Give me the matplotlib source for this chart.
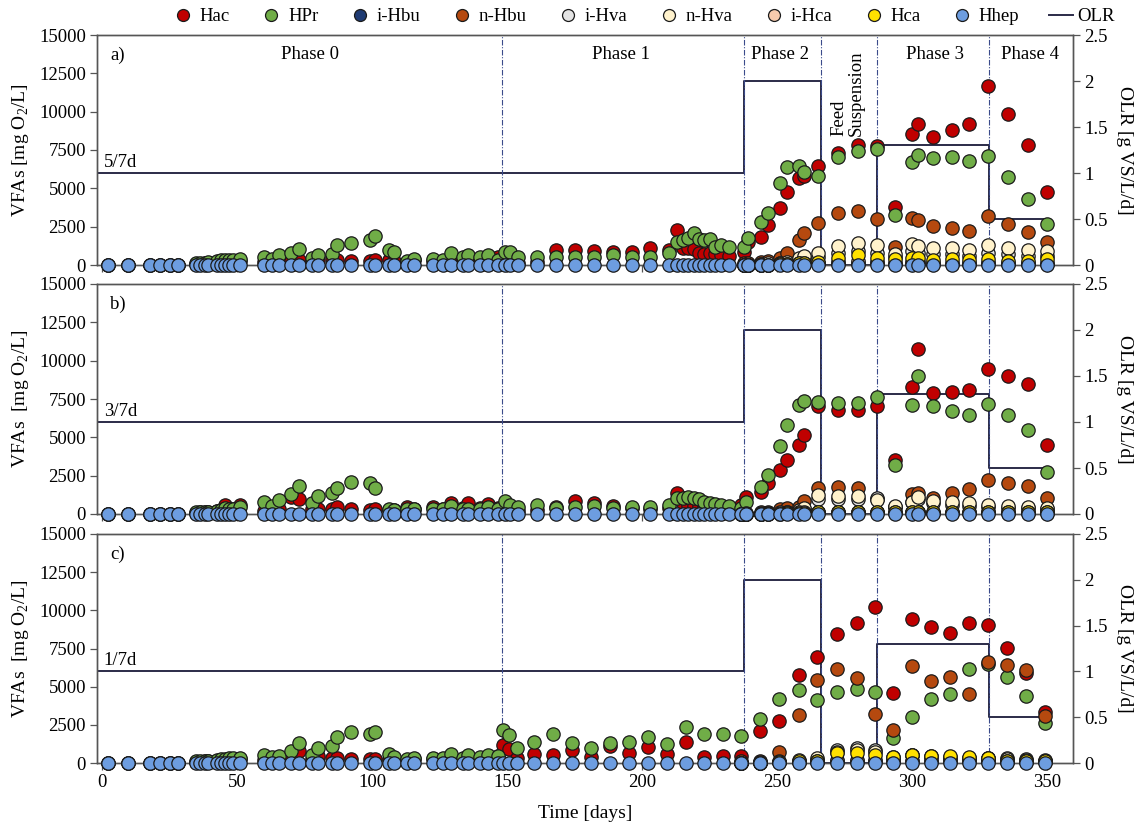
import matplotlib
matplotlib.use("Agg")
import matplotlib.pyplot as plt
from matplotlib.lines import Line2D

plt.rcParams['font.family'] = ['Liberation Serif', 'DejaVu Serif']
plt.rcParams['mathtext.fontset'] = 'custom'
plt.rcParams['mathtext.rm'] = 'Liberation Serif'

# ---------------- data ----------------
series_names = ['Hac', 'HPr', 'i-Hbu', 'n-Hbu', 'i-Hva', 'n-Hva', 'i-Hca', 'Hca', 'Hhep']
series_colors = ['#c00000', '#70ad47', '#1f3b73', '#b5490f', '#e4e4e4',
                 '#fff2cc', '#f8cbad', '#ffe100', '#6d9de0']

phase0_days = [2, 9.5, 17.5, 21.5, 25, 28, 34.5, 36, 38, 39, 42.5, 44, 45.5, 47, 48.5, 51,
               60, 63, 65.5, 70, 73, 77.5, 80, 85, 87, 92, 99, 101, 106, 108, 113, 115.5,
               122.5, 126, 129, 133.5, 135.5, 140, 143, 146.5]

phase_lines = [148, 237.5, 266, 287, 328.5]
phase_names = ['Phase 0', 'Phase 1', 'Phase 2', 'Phase 3', 'Phase 4']
phase_name_x = [77, 192, 251, 308.5, 343.5]

olr_days = [-2, 237.5, 266, 287, 328.5, 350]
olr_vals = [1, 2, 0, 1.3, 0.5, 0.5]

# ---- panel a (5/7d) ----
a_p1_days = [149, 151, 154, 161, 168, 175, 182, 189, 196, 203, 210, 213, 215, 217, 219,
             221, 223, 225, 227, 229, 232]
a_late_days = [237.5, 239, 244, 246.5, 251, 253.5, 258, 260, 265, 272.5, 280, 287, 293.5,
               300, 302, 307.5, 314.5, 321, 328, 335.5, 343, 350]
a_days = phase0_days + a_p1_days + a_late_days
a_hac = [0, 0, 0, 0, 0, 0, 50, 80, 100, 100, 150, 150, 200, 200, 250, 250, 200, 250, 300, 250,
         300, 200, 250, 450, 300, 280, 250, 300, 300, 250, 200, 300, 250, 250, 300, 300, 250,
         300, 300, 500,
         200, 250, 150, 200, 980, 980, 900, 870, 830, 1130, 980, 2280, 1090, 1090, 1040, 760,
         700, 760, 720, 650, 590,
         870, 1520, 1850, 2610, 3700, 4780, 5650, 5800, 6480, 7280, 7830, 7760, 3800, 8520,
         9200, 8370, 8800, 9200, 11670, 9830, 7830, 4740]
a_hpr = [0, 0, 0, 0, 0, 0, 100, 150, 150, 200, 250, 300, 330, 300, 300, 390, 540, 400, 650, 760,
         1040, 460, 650, 720, 1320, 1410, 1630, 1910, 1000, 830, 280, 390, 390, 300, 760, 500,
         650, 500, 650, 350,
         830, 830, 540, 540, 540, 540, 540, 640, 540, 500, 780, 1520, 1630, 1740, 2070, 1670,
         1630, 1670, 1200, 1300, 1200,
         1200, 1740, 2830, 3370, 5370, 6410, 6480, 6090, 5830, 7020, 7430, 7570, 3260, 6700,
         7170, 7000, 7070, 6780, 7100, 5720, 4300, 2650]
a_ihbu = [0, 0, 0, 0, 50, 50, 80, 80, 100, 100, 100, 100, 80, 100, 100, 80, 80, 80, 100, 80, 80, 80]
a_nhbu = [100, 150, 200, 250, 460, 800, 1630, 2070, 2760, 3410, 3520, 3000, 1200, 3040, 2930,
          2570, 2440, 2220, 3200, 2670, 2130, 1480]
a_ihva = [0, 0, 50, 50, 100, 150, 300, 400, 500, 800, 900, 800, 500, 900, 800, 700, 700, 600,
          800, 700, 600, 600]
a_nhva = [0, 0, 50, 100, 150, 200, 460, 590, 760, 1260, 1460, 1300, 700, 1390, 1260, 1090, 1130,
          1000, 1330, 1090, 960, 910]
a_ihca = [0, 0, 0, 0, 50, 50, 100, 100, 150, 200, 250, 200, 150, 200, 200, 150, 150, 150, 150,
          150, 150, 150]
a_hca = [0, 0, 0, 0, 50, 50, 100, 150, 200, 430, 650, 480, 370, 480, 480, 330, 370, 330, 370,
         280, 280, 370]
a_hhep = [0, 0, 0, 0, 0, 0, 0, 0, 0, 0, 0, 0, 0, 0, 0, 0, 0, 0, 0, 0,
          0, 0, 0, 0, 0, 0, 0, 0, 0, 0, 0, 0, 0, 0, 0, 0, 0, 0, 0, 0,
          0, 0, 0, 0, 0, 0, 0, 0, 0, 0, 0, 0, 0, 0, 0, 0, 0, 0, 0, 0, 0,
          0, 0, 0, 0, 0, 0, 0, 0, 0, 0, 0, 0, 0, 0, 0, 0, 0, 0, 0, 0, 0, 0]

# ---- panel b (3/7d) ----
b_p1_days = [149, 151, 154, 161, 168, 175, 182, 189, 196, 203, 210, 213, 215, 217, 219,
             221, 223, 225, 227, 229, 232]
b_late_days = [236.5, 238.5, 244, 246.5, 251, 253.5, 258, 260, 265, 272.5, 280, 287, 293.5,
               300, 302, 307.5, 314.5, 321, 328, 335.5, 343, 350]
b_days = phase0_days + b_p1_days + b_late_days
b_hac = [0, 0, 0, 0, 0, 0, 50, 100, 100, 150, 200, 250, 590, 300, 300, 590, 200, 250, 300, 1130,
         1000, 300, 300, 300, 440, 300, 250, 350, 250, 250, 480, 300, 480, 350, 740, 400, 740,
         400, 650, 370,
         300, 300, 200, 250, 480, 850, 740, 520, 380, 300, 380, 1400, 700, 600, 550, 500, 450,
         400, 370, 350, 350,
         590, 1135, 1460, 2010, 2880, 3540, 4520, 5130, 7030, 6770, 6810, 7070, 3540, 8300,
         10790, 7860, 7950, 8060, 9480, 8990, 8450, 4520]
b_hpr = [0, 0, 0, 0, 0, 0, 100, 100, 150, 150, 200, 250, 370, 300, 300, 440, 810, 500, 920, 1290,
         1830, 700, 1180, 1350, 1680, 2070, 2050, 1680, 300, 250, 300, 300, 300, 300, 520, 300,
         350, 300, 480, 300,
         850, 600, 440, 590, 370, 430, 520, 400, 480, 480, 590, 1020, 1020, 1100, 1020, 1000,
         800, 700, 650, 600, 550,
         400, 810, 1750, 2550, 4410, 5830, 7140, 7400, 7310, 7250, 7250, 7620, 3170, 7100, 8990,
         7030, 6750, 6480, 7180, 6440, 5500, 2770]
b_ihbu = [0, 0, 0, 50, 50, 80, 80, 100, 100, 100, 100, 100, 80, 100, 100, 80, 80, 80, 100, 80, 80, 80]
b_nhbu = [0, 50, 100, 150, 300, 420, 480, 870, 1680, 1790, 1680, 1000, 480, 1310, 1350, 1070,
          1350, 1640, 2230, 2010, 1830, 1030]
b_ihva = [0, 0, 0, 50, 50, 100, 200, 300, 1000, 1000, 1000, 1030, 450, 800, 1000, 700, 600, 550,
          450, 400, 400, 350]
b_nhva = [0, 0, 50, 50, 100, 150, 260, 400, 1240, 1200, 1200, 900, 550, 770, 1140, 850, 760, 700,
          590, 550, 480, 420]
b_ihca = [0, 0, 0, 0, 50, 50, 100, 100, 150, 150, 150, 150, 100, 150, 150, 100, 100, 100, 100,
          100, 100, 100]
b_hca = [0, 0, 0, 0, 0, 50, 50, 50, 100, 150, 150, 150, 100, 150, 150, 100, 100, 100, 100, 100,
         100, 100]
b_hhep = [0, 0, 0, 0, 0, 0, 0, 0, 0, 0, 0, 0, 0, 0, 0, 0, 0, 0, 0, 0,
          0, 0, 0, 0, 0, 0, 0, 0, 0, 0, 0, 0, 0, 0, 0, 0, 0, 0, 0, 0,
          0, 0, 0, 0, 0, 0, 0, 0, 0, 0, 0, 0, 0, 0, 0, 0, 0, 0, 0, 0, 0,
          0, 0, 0, 0, 0, 0, 0, 0, 0, 0, 0, 0, 0, 0, 0, 0, 0, 0, 0, 0, 0, 0]

# ---- panel c (1/7d) ----
c_p1_days = [148.5, 150.5, 153.5, 160, 167, 174, 181, 188, 195, 202, 209, 216, 223, 230]
c_late_days = [236.5, 243.5, 250.5, 258, 264.5, 272, 279.5, 286, 293, 300, 307, 314, 321, 328,
               335, 342, 349]
c_days = phase0_days + c_p1_days + c_late_days
c_hac = [0, 0, 0, 0, 0, 0, 50, 50, 100, 100, 150, 150, 200, 200, 200, 250, 200, 250, 300, 300,
         770, 250, 440, 300, 330, 280, 250, 280, 250, 200, 200, 250, 250, 250, 250, 250, 250,
         250, 300, 440,
         1200, 920, 300, 590, 550, 880, 400, 1140, 660, 1050, 590, 1360, 390, 440,
         440, 2080, 2780, 5740, 6960, 8430, 9150, 10250, 4600, 9460, 8930, 8540, 9150, 9020,
         7560, 5910, 3320]
c_hpr = [0, 0, 0, 0, 0, 0, 100, 100, 150, 150, 200, 250, 250, 300, 300, 330, 550, 400, 480, 770,
         1310, 550, 985, 1140, 1710, 2010, 1930, 2010, 590, 390, 260, 300, 330, 300, 590, 300,
         550, 400, 550, 450,
         2190, 1860, 985, 1360, 1900, 1310, 985, 1310, 1360, 1690, 1270, 2370, 1900, 1900,
         1750, 2910, 4160, 4750, 4140, 4670, 4820, 4670, 1640, 3020, 4160, 4490, 6130, 6500,
         5620, 4380, 2630]
c_ihbu = [0, 50, 50, 80, 80, 100, 100, 100, 80, 100, 100, 100, 100, 100, 80, 80, 80]
c_nhbu = [100, 150, 720, 3170, 5430, 6130, 5540, 3240, 2140, 6350, 5360, 5620, 4490, 6610, 6410,
          6060, 3060]
c_ihva = [0, 0, 50, 100, 200, 880, 960, 830, 350, 500, 400, 350, 300, 300, 300, 250, 200]
c_nhva = [0, 50, 100, 200, 300, 750, 850, 700, 400, 550, 450, 400, 350, 300, 250, 200, 150]
c_ihca = [0, 0, 50, 50, 100, 200, 200, 200, 150, 150, 150, 150, 150, 100, 100, 100, 100]
c_hca = [0, 0, 50, 100, 150, 660, 660, 500, 390, 550, 440, 480, 390, 330, 150, 100, 100]
c_hhep = [0, 0, 0, 0, 0, 0, 0, 0, 0, 0, 0, 0, 0, 0, 0, 0, 0, 0, 0, 0,
          0, 0, 0, 0, 0, 0, 0, 0, 0, 0, 0, 0, 0, 0, 0, 0, 0, 0, 0, 0,
          0, 0, 0, 0, 0, 0, 0, 0, 0, 0, 0, 0, 0, 0,
          0, 0, 0, 0, 0, 0, 0, 0, 0, 0, 0, 0, 0, 0, 0, 0, 0]

panel_letters = ['a)', 'b)', 'c)']
panel_rates = ['5/7d', '3/7d', '1/7d']
vfa_ticks = [0, 2500, 5000, 7500, 10000, 12500, 15000]
olr_ticks = [0, 0.5, 1, 1.5, 2, 2.5]
olr_tick_labels = ['0', '0.5', '1', '1.5', '2', '2.5']
time_ticks = [0, 50, 100, 150, 200, 250, 300, 350]

# ---------------- figure ----------------
W, H = 1138, 826
fig = plt.figure(figsize=(W / 100, H / 100), dpi=100)

left_px, right_px = 97, 1073
panel_px = [(35, 265), (284, 514), (534, 763)]

spine_col = '#555555'
line_col = '#2b2b48'
phase_col = '#3a4a8a'
FS = 13.5
MS = 9.6

panels = [
    (a_days, a_late_days, a_hac, a_hpr, a_ihbu, a_nhbu, a_ihva, a_nhva, a_ihca, a_hca, a_hhep),
    (b_days, b_late_days, b_hac, b_hpr, b_ihbu, b_nhbu, b_ihva, b_nhva, b_ihca, b_hca, b_hhep),
    (c_days, c_late_days, c_hac, c_hpr, c_ihbu, c_nhbu, c_ihva, c_nhva, c_ihca, c_hca, c_hhep),
]

for k, (top, bot) in enumerate(panel_px):
    ax = fig.add_axes([left_px / W, 1 - bot / H, (right_px - left_px) / W, (bot - top) / H])
    ax2 = ax.twinx()
    ax.set_zorder(ax2.get_zorder() + 1)
    ax.patch.set_visible(False)

    days, late, hac, hpr, ihbu, nhbu, ihva, nhva, ihca, hca, hhep = panels[k]
    data = [(days, hac), (days, hpr), (late, ihbu), (late, nhbu), (late, ihva),
            (late, nhva), (late, ihca), (late, hca), (days, hhep)]
    for i, (x, y) in enumerate(data):
        ax.plot(x, y, ls='none', marker='o', ms=MS, mfc=series_colors[i], mec='#1a1a1a',
                mew=0.9, zorder=3 + i, clip_on=False)

    for d in phase_lines:
        ax.axvline(d, color=phase_col, lw=0.8, ls=(0, (5, 1.5, 1, 1.5)), zorder=1)

    ax2.plot(olr_days, olr_vals, drawstyle='steps-post', color=line_col, lw=1.4)

    ax.set_xlim(-2, 359.5)
    ax.set_ylim(0, 15000)
    ax2.set_ylim(0, 2.5)
    ax.set_yticks(vfa_ticks)
    ax.set_yticklabels([str(v) for v in vfa_ticks])
    ax2.set_yticks(olr_ticks)
    ax2.set_yticklabels(olr_tick_labels)
    ax.set_xticks(time_ticks)
    if k == 2:
        ax.set_xticklabels([str(v) for v in time_ticks])
        ax.set_xlabel('Time [days]', fontsize=FS + 0.5, labelpad=10)
    else:
        ax.set_xticklabels([])

    for a_ in (ax, ax2):
        for s in a_.spines.values():
            s.set_color(spine_col)
            s.set_linewidth(1.0)
        a_.tick_params(direction='out', length=5, width=0.9, color=spine_col,
                       labelsize=FS, pad=3)

    sep = '  ' if k > 0 else ' '
    ax.set_ylabel('VFAs' + sep + r'[mg O$_\mathregular{2}$/L]', fontsize=FS + 0.5, labelpad=6)
    ax2.set_ylabel('OLR [g VS/L/d]', fontsize=FS + 0.5, rotation=270, labelpad=18)

    ax.text(3, 13700, panel_letters[k], fontsize=FS, ha='left', va='center')
    ax.text(0.5, 6150, panel_rates[k], fontsize=FS, ha='left', va='bottom')

    if k == 0:
        for nm, xx in zip(phase_names, phase_name_x):
            ax.text(xx, 13700, nm, fontsize=FS, ha='center', va='center')
        ax.text(276, 8400, 'Feed\nSuspension', fontsize=FS, rotation=90,
                ha='center', va='bottom', multialignment='left', linespacing=1.0)

handles = [Line2D([], [], ls='none', marker='o', ms=MS - 1, mfc=c, mec='#1a1a1a', mew=0.9)
           for c in series_colors]
handles.append(Line2D([], [], color=line_col, lw=1.4))
labels = series_names + ['OLR']
fig.legend(handles, labels, loc='upper center', bbox_to_anchor=(0.565, 1.004), ncol=10,
           frameon=False, fontsize=FS, handlelength=1.3, handletextpad=0.25,
           columnspacing=1.55, borderaxespad=0.2)

fig.savefig('out.png', dpi=100)
